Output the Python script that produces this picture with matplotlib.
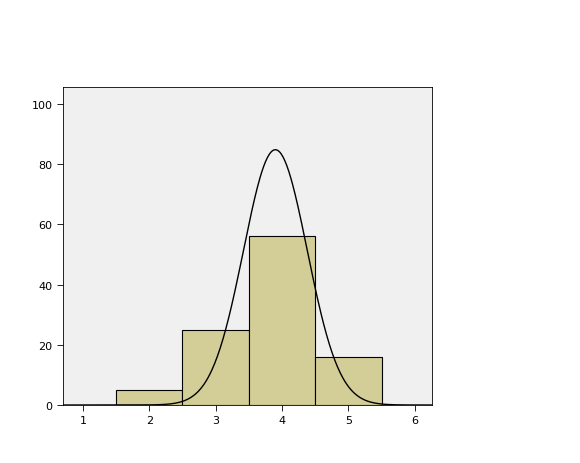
import numpy as np
import matplotlib.pyplot as plt

bin_centers = [2, 3, 4, 5]
counts = [5, 25, 56, 16]
curve_mean = 3.9
curve_sd = 0.48
n_total = sum(counts)

fig = plt.figure(figsize=(5.8, 4.64), dpi=100)
ax = fig.add_axes([63/580, 1 - 406/464, (432-63)/580, (406-88)/464])
ax.set_facecolor("#f0f0f0")

ax.bar(bin_centers, counts, width=1.0, color="#d3ce97", edgecolor="black", linewidth=0.8)

xs = np.linspace(0.7, 6.26, 400)
ys = n_total / (curve_sd * np.sqrt(2 * np.pi)) * np.exp(-0.5 * ((xs - curve_mean) / curve_sd) ** 2)
ax.plot(xs, ys, color="black", linewidth=1)

ax.set_xlim(0.7, 6.26)
ax.set_ylim(0, 105.6)
ax.set_xticks([1, 2, 3, 4, 5, 6])
ax.set_yticks([0, 20, 40, 60, 80, 100])
ax.tick_params(labelsize=8, length=4, width=0.6)
for s in ax.spines.values():
    s.set_linewidth(0.6)

fig.savefig("out.png", dpi=100)
